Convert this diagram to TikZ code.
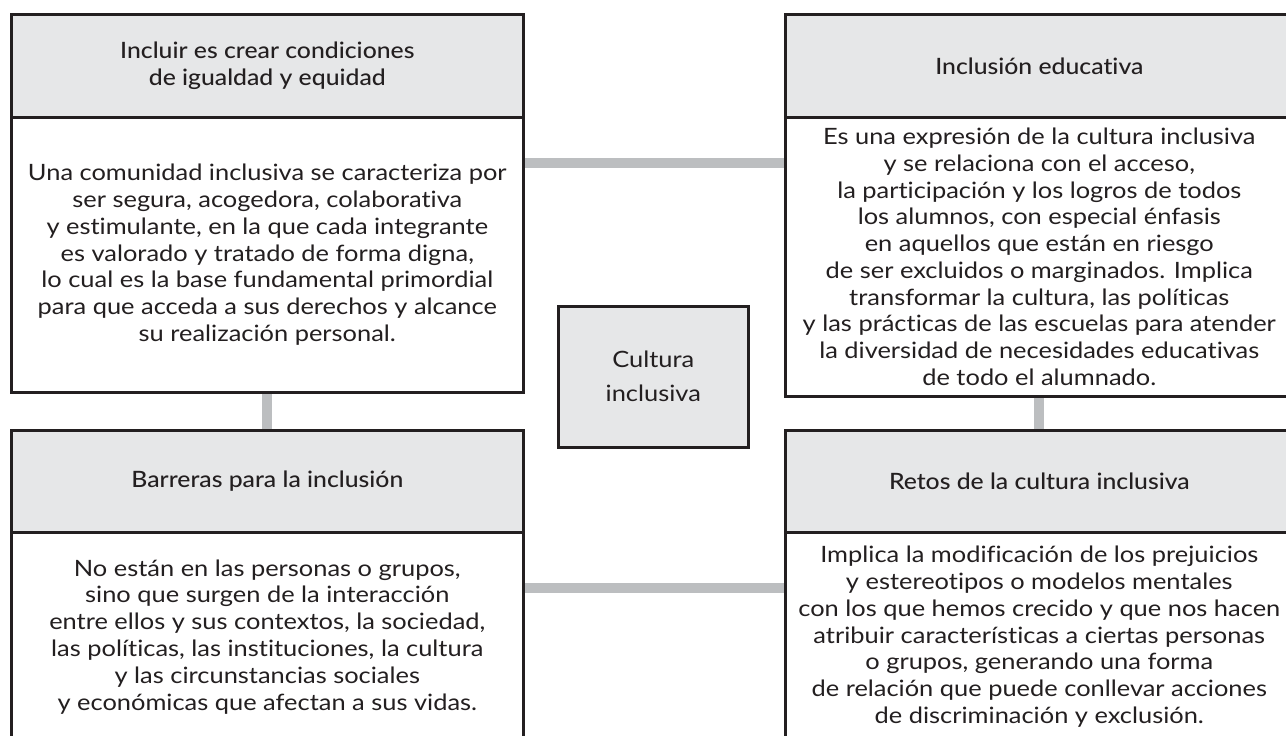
\documentclass[tikz,border=0pt]{standalone}
\usepackage{fontspec}
\setmainfont{Lato Medium}[FakeStretch=1.1,Ligatures=NoCommon]
\newfontfamily\bodyfont{Lato}[FakeStretch=1.13,Ligatures=NoCommon]
\usetikzlibrary{backgrounds}
\definecolor{ink}{HTML}{231F20}
\definecolor{headfill}{HTML}{E6E7E8}
\definecolor{linkgray}{HTML}{BCBEC0}
\begin{document}
\begin{tikzpicture}[x=1pt,y=-1pt,
  boxline/.style={draw=ink,line width=2.6pt},
  headbox/.style={boxline,fill=headfill,anchor=north west,inner sep=0pt,align=center,text=ink,font=\fontsize{22.5}{27}\selectfont},
  bodybox/.style={boxline,fill=white,anchor=north west,inner sep=0pt,align=center,text=ink,font=\bodyfont\fontsize{22.5}{26.8}\selectfont},
  centerbox/.style={boxline,fill=headfill,anchor=north west,inner sep=0pt,align=center,text=ink,font=\bodyfont\fontsize{22.5}{34}\selectfont},
  conn/.style={draw=linkgray,line width=10pt}]
\useasboundingbox (0,0) rectangle (1286,736);
% top left
\node[headbox,minimum width=512pt,minimum height=103pt] (tlhead) at (10,13) {Incluir es crear condiciones\\de igualdad y equidad};
\node[bodybox,minimum width=512pt,minimum height=275pt] (tlbody) at (10,116) {Una comunidad inclusiva se caracteriza por\\ser segura, acogedora, colaborativa\\y estimulante, en la que cada integrante\\es valorado y tratado de forma digna,\\lo cual es la base fundamental primordial\\para que acceda a sus derechos y alcance\\su realización personal.};
% top right
\node[headbox,minimum width=508pt,minimum height=103pt] (trhead) at (784,13) {Inclusión educativa};
\node[bodybox,minimum width=508pt,minimum height=279pt] (trbody) at (784,116) {Es una expresión de la cultura inclusiva\\y se relaciona con el acceso,\\la participación y los logros de todos\\los alumnos, con especial énfasis\\en aquellos que están en riesgo\\de ser excluidos o marginados. Implica\\transformar la cultura, las políticas\\y las prácticas de las escuelas para atender\\la diversidad de necesidades educativas\\de todo el alumnado.};
% bottom left
\node[headbox,minimum width=512pt,minimum height=102pt] (blhead) at (10,429) {Barreras para la inclusión};
\node[bodybox,minimum width=512pt,minimum height=209pt] (blbody) at (10,531) {No están en las personas o grupos,\\sino que surgen de la interacción\\entre ellos y sus contextos, la sociedad,\\las políticas, las instituciones, la cultura\\y las circunstancias sociales\\y económicas que afectan a sus vidas.};
% bottom right
\node[headbox,minimum width=508pt,minimum height=102pt] (brhead) at (784,429) {Retos de la cultura inclusiva};
\node[bodybox,minimum width=508pt,minimum height=209pt] (brbody) at (784,531) {Implica la modificación de los prejuicios\\y estereotipos o modelos mentales\\con los que hemos crecido y que nos hacen\\atribuir características a ciertas personas\\o grupos, generando una forma\\de relación que puede conllevar acciones\\de discriminación y exclusión.};
% center
\node[centerbox,minimum width=190pt,minimum height=141pt] (center) at (557,305) {Cultura\\inclusiva};
% connectors
\coordinate (h1) at (0,163);
\coordinate (h2) at (0,588);
\begin{scope}[on background layer]
\fill[white] (0,0) rectangle (1286,736);
\draw[conn] (tlbody.east |- h1) -- (trbody.west |- h1);
\draw[conn] (blbody.east |- h2) -- (brbody.west |- h2);
\draw[conn] (tlbody.south) -- (blhead.north);
\draw[conn] (trbody.south) -- (brhead.north);
\end{scope}
\end{tikzpicture}
\end{document}
